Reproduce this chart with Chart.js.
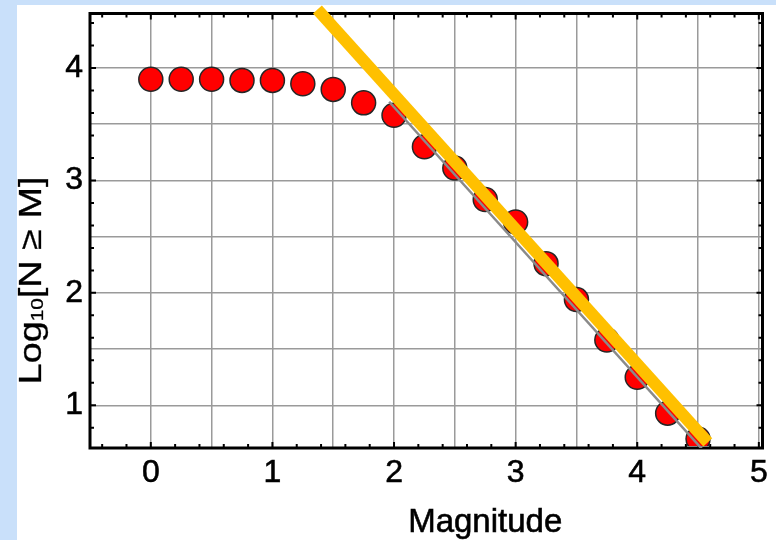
<!DOCTYPE html>
<html>
<head>
<meta charset="utf-8">
<script src="https://cdn.jsdelivr.net/npm/chart.js@4.4.1/dist/chart.umd.min.js"></script>
<style>
  html, body { margin: 0; padding: 0; }
  body { width: 776px; height: 540px; background: #c9e0fa; position: relative; overflow: hidden; }
  #panel { position: absolute; left: 17px; top: 5px; right: 0; bottom: 0; background: #fff; }
  #chart { position: absolute; left: 0; top: 0; }
</style>
</head>
<body>
<div id="panel"></div>
<canvas id="chart" width="776" height="540"></canvas>
<script>
// ─── DATA ────────────────────────────────────────────────────
const magnitudes = [0, 0.25, 0.5, 0.75, 1, 1.25, 1.5, 1.75, 2, 2.25, 2.5, 2.75, 3, 3.25, 3.5, 3.75, 4, 4.25, 4.5];
const logCounts  = [3.90, 3.90, 3.90, 3.89, 3.89, 3.86, 3.81, 3.69, 3.58, 3.30, 3.11, 2.83, 2.63, 2.26, 1.94, 1.58, 1.25, 0.93, 0.70];

// thick orange guide line and the thin grey line under it
const fitX = [1.37, 4.58];
const fitY = [4.52, 0.67];
const greyX = [1.96, 4.55];
const greyY = [3.70, 0.59];

const xTickLabels = [0, 1, 2, 3, 4, 5];
const yTickLabels = [1, 2, 3, 4];

const FONT = "'Liberation Sans', Arial, Helvetica, sans-serif";

// ─── FRAME, MINOR TICKS, AXIS TITLES ─────────────────────────
const framePlugin = {
  id: 'frame',
  beforeDatasetsDraw(chart) {
    const { ctx, chartArea: a, scales: { x, y } } = chart;
    ctx.save();
    ctx.strokeStyle = '#000';
    ctx.lineWidth = 2;
    ctx.beginPath();
    for (let i = Math.ceil(x.min * 5); i <= Math.floor(x.max * 5); i++) {
      const px = x.getPixelForValue(i / 5);
      const len = i % 5 === 0 ? 6 : 4;
      ctx.moveTo(px, a.bottom); ctx.lineTo(px, a.bottom - len);
      ctx.moveTo(px, a.top); ctx.lineTo(px, a.top + len);
    }
    for (let i = Math.ceil(y.min * 5); i <= Math.floor(y.max * 5); i++) {
      const py = y.getPixelForValue(i / 5);
      const len = i % 5 === 0 ? 6 : 4;
      ctx.moveTo(a.left, py); ctx.lineTo(a.left + len, py);
      ctx.moveTo(a.right, py); ctx.lineTo(a.right - len, py);
    }
    ctx.stroke();
    ctx.lineWidth = 3;
    ctx.strokeRect(a.left, a.top, a.right - a.left, a.bottom - a.top);
    ctx.restore();
  },
  afterDraw(chart) {
    const { ctx, chartArea: a, scales: { x } } = chart;
    ctx.save();
    ctx.fillStyle = '#000';
    ctx.strokeStyle = '#000';
    ctx.lineWidth = 0.6;

    // x title
    ctx.font = '33px ' + FONT;
    ctx.textAlign = 'center';
    ctx.textBaseline = 'alphabetic';
    const tx = x.getPixelForValue(2.75), ty = a.bottom + 84;
    ctx.fillText('Magnitude', tx, ty);
    ctx.strokeText('Magnitude', tx, ty);

    // y title with subscript
    const parts = [['Log', 31, 0], ['10', 17, 2], ['[N \u2265 M]', 31, 0]];
    ctx.textAlign = 'left';
    let total = 0;
    parts.forEach(p => { ctx.font = p[1] + 'px ' + FONT; total += ctx.measureText(p[0]).width; });
    ctx.translate(a.left - 49, a.top + 267);
    ctx.rotate(-Math.PI / 2);
    ctx.scale(1.22, 1);
    ctx.lineWidth = 0.3;
    let cx = -total / 2;
    parts.forEach(p => {
      ctx.font = p[1] + 'px ' + FONT;
      ctx.fillText(p[0], cx, p[2]);
      ctx.strokeText(p[0], cx, p[2]);
      cx += ctx.measureText(p[0]).width;
    });
    ctx.restore();
  }
};

// ─── CHART ───────────────────────────────────────────────────
const ctx = document.getElementById('chart').getContext('2d');
new Chart(ctx, {
  type: 'scatter',
  data: {
    datasets: [
      {
        label: 'fit',
        data: fitX.map((v, i) => ({ x: v, y: fitY[i] })),
        showLine: true,
        borderColor: '#ffc000',
        borderWidth: 12,
        borderCapStyle: 'butt',
        pointRadius: 0,
        clip: false,
        order: 0
      },
      {
        label: 'grey',
        data: greyX.map((v, i) => ({ x: v, y: greyY[i] })),
        showLine: true,
        borderColor: '#8a8a8a',
        borderWidth: 2.5,
        pointRadius: 0,
        order: 1
      },
      {
        label: 'N >= M',
        data: magnitudes.map((m, i) => ({ x: m, y: logCounts[i] })),
        showLine: false,
        pointRadius: 12,
        pointBackgroundColor: '#ff0000',
        pointBorderColor: '#262626',
        pointBorderWidth: 1.5,
        clip: { left: 0, top: 0, right: 0, bottom: -2 },
        order: 2
      }
    ]
  },
  options: {
    responsive: false,
    animation: false,
    devicePixelRatio: 1,
    layout: { padding: { top: 10, right: 5, left: 0, bottom: 0 } },
    plugins: { legend: { display: false }, tooltip: { enabled: false } },
    scales: {
      x: {
        type: 'linear',
        min: -0.5,
        max: 5.03,
        afterFit: s => { s.height = 92; s.paddingLeft = 0; s.paddingRight = 0; },
        border: { display: false },
        grid: { color: '#9a9a9a', lineWidth: 1.5, drawTicks: false },
        ticks: {
          stepSize: 0.5,
          includeBounds: false,
          maxRotation: 0,
          autoSkip: false,
          padding: 6,
          color: '#000',
          textStrokeColor: '#000',
          textStrokeWidth: 0.6,
          font: { family: FONT, size: 32 },
          callback: v => xTickLabels.includes(v) ? String(v) : ''
        }
      },
      y: {
        type: 'linear',
        min: 0.62,
        max: 4.485,
        afterFit: s => { s.width = 90; s.paddingTop = 0; s.paddingBottom = 0; },
        border: { display: false },
        grid: { color: '#9a9a9a', lineWidth: 1.5, drawTicks: false },
        ticks: {
          stepSize: 0.5,
          includeBounds: false,
          autoSkip: false,
          padding: 7,
          color: '#000',
          textStrokeColor: '#000',
          textStrokeWidth: 0.6,
          font: { family: FONT, size: 32 },
          callback: v => yTickLabels.includes(v) ? String(v) : ''
        }
      }
    }
  },
  plugins: [framePlugin]
});
</script>
</body>
</html>
